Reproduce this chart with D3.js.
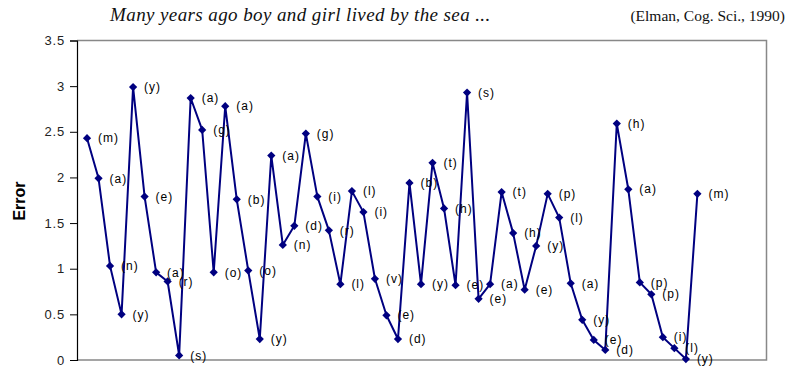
<!DOCTYPE html>
<html>
<head>
<meta charset="utf-8">
<script src="https://cdn.jsdelivr.net/npm/d3@7"></script>
<style>
  body { margin: 0; background: #fff; }
  svg { display: block; }
</style>
</head>
<body>
<svg id="chart" width="787" height="368"></svg>
<script>
// Letters of the input sequence, one per point
const letters = ['m','a','n','y','y','e','a','r','s','a','g','o','a','b','o','y',
  'a','n','d','g','i','r','l','l','i','v','e','d','b','y','t','h','e','s',
  'e','a','t','h','e','y','p','l','a','y','e','d','h','a','p','p','i','l','y','m'];

// Prediction error per letter
const errors = [2.43, 1.99, 1.03, 0.50, 2.99, 1.79, 0.96, 0.86, 0.05, 2.87, 2.52, 0.96,
  2.78, 1.76, 0.98, 0.23, 2.24, 1.26, 1.47, 2.48, 1.79, 1.42, 0.83, 1.85, 1.62, 0.89,
  0.49, 0.23, 1.94, 0.83, 2.16, 1.66, 0.82, 2.93, 0.67, 0.83, 1.84, 1.39, 0.77, 1.25,
  1.82, 1.56, 0.84, 0.44, 0.22, 0.11, 2.59, 1.87, 0.85, 0.72, 0.25, 0.13, 0.01, 1.82];

const yTicks = [0, 0.5, 1, 1.5, 2, 2.5, 3, 3.5];

const title = 'Many years ago boy and girl lived by the sea ...';
const citation = '(Elman, Cog. Sci., 1990)';

const data = errors.map((e, i) => ({ i: i, letter: letters[i], error: e }));

const svg = d3.select('#chart');
const margin = { top: 40.5, right: 20.5, bottom: 8, left: 77 };
const width = 787, height = 368;
const plotW = width - margin.left - margin.right;
const plotH = height - margin.top - margin.bottom;

// The category axis in the original has a few empty slots after the last letter
const x = d3.scaleLinear().domain([-0.87, 59]).range([0, plotW]);
const y = d3.scaleLinear().domain([0, 3.5]).range([plotH, 0]);

// Titles
svg.append('text')
  .attr('x', 110).attr('y', 21)
  .style('font', 'italic 19px "Liberation Serif", "Times New Roman", serif')
  .style('letter-spacing', '0.4px')
  .attr('fill', '#111')
  .text(title);

svg.append('text')
  .attr('x', 785).attr('y', 21)
  .attr('text-anchor', 'end')
  .style('font', '15.5px "Liberation Serif", "Times New Roman", serif')
  .attr('fill', '#111')
  .text(citation);

const g = svg.append('g').attr('transform', `translate(${margin.left},${margin.top})`);

// Plot frame (grey top, right and bottom)
g.append('path')
  .attr('d', `M0,0H${plotW}V${plotH}H0`)
  .attr('fill', 'none')
  .attr('stroke', '#888')
  .attr('stroke-width', 1.5);

// Y axis
const yAxis = d3.axisLeft(y)
  .tickValues(yTicks)
  .tickSize(7)
  .tickPadding(5)
  .tickFormat(d3.format('~g'));

const yG = g.append('g').call(yAxis);
yG.select('.domain').attr('stroke', '#000').attr('stroke-width', 1.2);
yG.selectAll('.tick line').attr('stroke', '#000');
yG.selectAll('.tick text')
  .style('font', '13px "Liberation Sans", Arial, sans-serif')
  .style('letter-spacing', '0.8px')
  .attr('fill', '#222');

svg.append('text')
  .attr('transform', 'translate(25,201) rotate(-90)')
  .attr('text-anchor', 'middle')
  .style('font', 'bold 16px "Liberation Sans", Arial, sans-serif')
  .attr('fill', '#000')
  .text('Error');

// Error line
const line = d3.line()
  .x(d => x(d.i))
  .y(d => y(d.error));

g.append('path')
  .datum(data)
  .attr('fill', 'none')
  .attr('stroke', '#000080')
  .attr('stroke-width', 2)
  .attr('stroke-linejoin', 'round')
  .attr('d', line);

// Diamond markers
const diamond = d3.symbol(d3.symbolSquare, 34);
g.selectAll('path.marker')
  .data(data)
  .enter()
  .append('path')
    .attr('class', 'marker')
    .attr('d', diamond)
    .attr('transform', d => `translate(${x(d.i)},${y(d.error)}) rotate(45)`)
    .attr('fill', '#000080');

// Letter labels to the right of each point
g.selectAll('text.letter')
  .data(data)
  .enter()
  .append('text')
    .attr('class', 'letter')
    .attr('x', d => x(d.i) + 11)
    .attr('y', d => y(d.error))
    .attr('dy', '0.35em')
    .style('font', '12px "Liberation Sans", Arial, sans-serif')
    .style('letter-spacing', '1px')
    .attr('fill', '#000')
    .text(d => `(${d.letter})`);
</script>
</body>
</html>
